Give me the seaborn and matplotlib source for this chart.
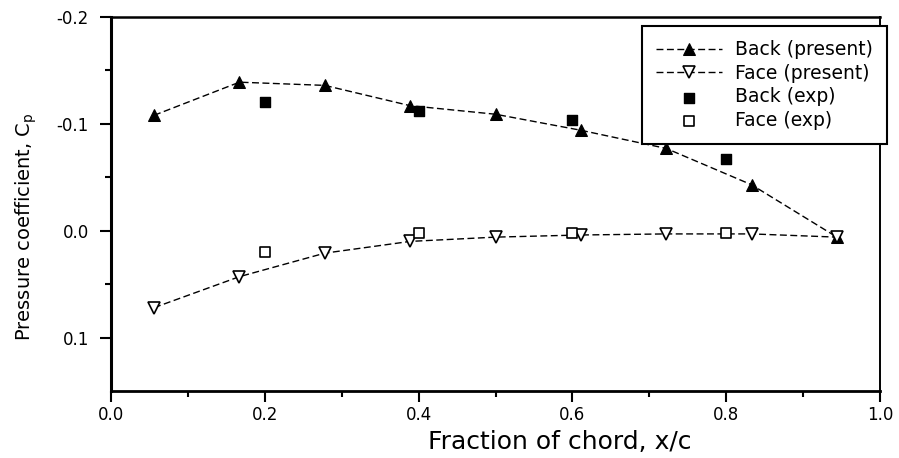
import matplotlib
matplotlib.use("Agg")
import matplotlib.pyplot as plt
import seaborn as sns
import numpy as np

# ---- data ----
x_present = [0.056, 0.167, 0.278, 0.389, 0.500, 0.611, 0.722, 0.833, 0.944]
back_present = [-0.108, -0.139, -0.136, -0.117, -0.109, -0.094, -0.077, -0.043, 0.006]
face_present = [0.072, 0.043, 0.021, 0.010, 0.006, 0.004, 0.003, 0.003, 0.006]

x_exp = [0.2, 0.4, 0.6, 0.8]
back_exp = [-0.120, -0.112, -0.104, -0.067]
face_exp = [0.020, 0.002, 0.002, 0.002]

x_ticks = [0.0, 0.2, 0.4, 0.6, 0.8, 1.0]
y_ticks = [-0.2, -0.1, 0.0, 0.1]

sns.set_theme(style="ticks")
plt.rcParams['font.family'] = ['DejaVu Sans']
plt.rcParams['axes.unicode_minus'] = False
plt.rcParams['text.color'] = 'black'
plt.rcParams['axes.labelcolor'] = 'black'
plt.rcParams['xtick.color'] = 'black'
plt.rcParams['ytick.color'] = 'black'

fig = plt.figure(figsize=(8.99, 4.58), dpi=100)
ax = fig.add_axes([111/899, 1-391/458, (880-111)/899, (391-17)/458])

dash = (0, (5, 2.5))
sns.lineplot(x=x_present, y=back_present, ax=ax, color='black', marker='^',
             markersize=9, markeredgecolor='black', markerfacecolor='black',
             linewidth=1.0, linestyle=dash, label='Back (present)', sort=False)
sns.lineplot(x=x_present, y=face_present, ax=ax, color='black', marker='v',
             markersize=9, markeredgecolor='black', markerfacecolor='white',
             markeredgewidth=1.2, linewidth=1.0, linestyle=dash,
             label='Face (present)', sort=False)
sns.scatterplot(x=x_exp, y=back_exp, ax=ax, marker='s', s=56, color='black',
                edgecolor='black', linewidth=1.0, label='Back (exp)', zorder=3)
sns.scatterplot(x=x_exp, y=face_exp, ax=ax, marker='s', s=56, color='white',
                edgecolor='black', linewidth=1.2, label='Face (exp)', zorder=3)

ax.set_xlim(0.0, 1.0)
ax.set_ylim(0.15, -0.2)
ax.set_xticks(x_ticks)
ax.set_xticklabels([f"{v:.1f}" for v in x_ticks])
ax.set_yticks(y_ticks)
ax.set_yticklabels([f"{v:.1f}" for v in y_ticks])
ax.set_xticks([0.1, 0.3, 0.5, 0.7, 0.9], minor=True)
ax.set_yticks([-0.15, -0.05, 0.05], minor=True)

ax.tick_params(axis='both', which='major', direction='out', length=8, width=1.5,
               labelsize=12, colors='black')
ax.tick_params(axis='x', which='major', pad=3)
ax.tick_params(axis='y', which='major', pad=8)
ax.tick_params(axis='both', which='minor', direction='out', length=4, width=1.5)

for side, lw in [('left', 2.2), ('bottom', 2.0), ('top', 1.8), ('right', 1.4)]:
    ax.spines[side].set_visible(True)
    ax.spines[side].set_linewidth(lw)
    ax.spines[side].set_color('black')

ax.set_xlabel("Fraction of chord, x/c", fontsize=18, color='black')
ax.xaxis.set_label_coords(0.583, -0.105)
ax.set_ylabel(r"Pressure coefficient, C$_\mathregular{p}$", fontsize=14,
              color='black')
ax.yaxis.set_label_coords(-0.094, 0.44)

leg = ax.legend(loc='upper right', bbox_to_anchor=(887/899, 1-26/458),
                bbox_transform=fig.transFigure, borderaxespad=0, fontsize=13.5,
                frameon=True, fancybox=False, framealpha=1, edgecolor='black',
                borderpad=0.75, labelspacing=0.25, handlelength=3.5,
                handletextpad=0.7)
leg.get_frame().set_linewidth(1.5)
for t in leg.get_texts():
    t.set_color('black')

fig.savefig("out.png", dpi=100, facecolor='white')
